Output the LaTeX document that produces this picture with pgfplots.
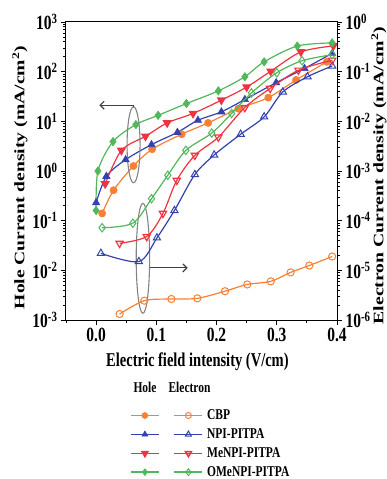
\documentclass[border=0pt]{standalone}
\usepackage{pgfplots}
\pgfplotsset{compat=1.18}
\usepackage{fontspec}
\setmainfont{Liberation Serif}
\usetikzlibrary{arrows.meta}

\definecolor{cOr}{RGB}{247,128,52}
\definecolor{cBl}{RGB}{52,66,176}
\definecolor{cRd}{RGB}{238,52,64}
\definecolor{cGr}{RGB}{82,182,92}
\definecolor{cAn}{RGB}{100,100,100}

\newcommand{\vs}[1]{\scalebox{1}[1.3]{#1}}
\newcommand{\tl}[1]{\vs{10\textsuperscript{#1}}}

\pgfplotsset{
 hole/.style={color=#1, line width=1.2pt, mark size=3.6pt, smooth, tension=0.5,
   mark options={solid, fill=#1, line width=0.6pt}},
 elec/.style={color=#1, line width=1.2pt, mark size=3.6pt, smooth, tension=0.5,
   mark options={solid, fill=white, line width=1pt}},
}

\begin{document}
\begin{tikzpicture}
% ---------------- hole (left axis) ----------------
\begin{axis}[scale only axis, width=271pt, height=298pt, xmin=-0.05, xmax=0.4,
 ymode=log, at={(0pt,0pt)}, anchor=south west,
 tick align=outside, major tick length=5pt, minor tick length=3pt,
 axis line style={line width=1pt}, tick style={line width=0.8pt, black},
 ticklabel style={font=\fontsize{15.5}{17}\selectfont\bfseries},
 ymin=1e-3, ymax=1e3,
 ytick={1e-3,1e-2,1e-1,1,1e1,1e2,1e3},
 yticklabels={\tl{-3},\tl{-2},\tl{-1},\tl{0},\tl{1},\tl{2},\tl{3}},
 minor ytick={2e-3,3e-3,4e-3,5e-3,6e-3,7e-3,8e-3,9e-3,2e-2,3e-2,4e-2,5e-2,6e-2,7e-2,8e-2,9e-2,0.2,0.3,0.4,0.5,0.6,0.7,0.8,0.9,2,3,4,5,6,7,8,9,20,30,40,50,60,70,80,90,200,300,400,500,600,700,800,900},
 xtick={0,0.1,0.2,0.3,0.4}, xticklabels={\vs{0.0},\vs{0.1},\vs{0.2},\vs{0.3},\vs{0.4}},
 minor xtick={-0.05,0.05,0.15,0.25,0.35},
 xtick pos=bottom, ytick pos=left,
 xlabel={\scalebox{1}[1.35]{Electric field intensity (V/cm)}},
 ylabel={\scalebox{1.35}[1]{Hole Current density (mA/cm\textsuperscript{2})}},
 label style={font=\fontsize{14.5}{16}\selectfont\bfseries},
 xlabel style={at={(axis description cs:0.485,-0.141)}, anchor=center},
 ylabel style={at={(axis description cs:-0.170,0.478)}, anchor=center},
]
\addplot[hole=cOr, mark=*] coordinates {(0.010,0.14) (0.029,0.41) (0.062,1.26) (0.093,2.74) (0.142,5.5) (0.186,9.3) (0.236,18) (0.286,30) (0.332,68) (0.383,158)};
\addplot[hole=cBl, mark=triangle*, mark size=4.2pt] coordinates {(0.0,0.23) (0.017,0.78) (0.049,1.69) (0.092,3.4) (0.135,6.0) (0.169,10.5) (0.208,15.5) (0.247,27.5) (0.299,60) (0.346,116) (0.392,234)};
\addplot[hole=cRd, mark=triangle*, mark size=4.2pt, mark options={rotate=180}] coordinates {(0.015,0.55) (0.042,2.6) (0.082,5.0) (0.118,9.3) (0.161,14.4) (0.208,26.7) (0.25,49) (0.29,102) (0.34,250) (0.394,330)};
\addplot[hole=cGr, mark=diamond*, mark size=4.2pt] coordinates {(0.0,0.16) (0.003,1.0) (0.028,3.9) (0.066,8.6) (0.103,13.2) (0.15,22.8) (0.203,41) (0.247,79) (0.279,158) (0.334,328) (0.392,380)};
% annotations
\draw[cAn!80, line width=1.1pt] (axis cs:0.0622,3.37) ellipse [x radius=6.5pt, y radius=38pt];
\draw[black!75, line width=1.1pt, -{Straight Barb[length=4pt,width=8pt]}] (axis cs:0.0622,19) |- (axis cs:0.0055,21.1);
\draw[cAn!80, line width=1.1pt] (axis cs:0.0777,0.0175) ellipse [x radius=6.7pt, y radius=55pt];
\draw[black!75, line width=1.1pt, -{Straight Barb[length=4pt,width=8pt]}] (axis cs:0.0888,0.0112) -- (axis cs:0.152,0.0112);
\end{axis}
% ---------------- electron (right axis) ----------------
\begin{axis}[scale only axis, width=271pt, height=298pt, xmin=-0.05, xmax=0.4,
 ymode=log, at={(0pt,0pt)}, anchor=south west,
 tick align=outside, major tick length=5pt, minor tick length=3pt,
 axis line style={line width=1pt}, tick style={line width=0.8pt, black},
 ticklabel style={font=\fontsize{15.5}{17}\selectfont\bfseries},
 ymin=1e-6, ymax=1,
 axis y line*=right, axis x line=none,
 ytick={1e-6,1e-5,1e-4,1e-3,1e-2,1e-1,1},
 yticklabels={\tl{-6},\tl{-5},\tl{-4},\tl{-3},\tl{-2},\tl{-1},\tl{0}},
 minor ytick={2e-6,3e-6,4e-6,5e-6,6e-6,7e-6,8e-6,9e-6,2e-5,3e-5,4e-5,5e-5,6e-5,7e-5,8e-5,9e-5,2e-4,3e-4,4e-4,5e-4,6e-4,7e-4,8e-4,9e-4,2e-3,3e-3,4e-3,5e-3,6e-3,7e-3,8e-3,9e-3,2e-2,3e-2,4e-2,5e-2,6e-2,7e-2,8e-2,9e-2,0.2,0.3,0.4,0.5,0.6,0.7,0.8,0.9},
 ylabel={\scalebox{1.36}[1]{Electron Current density (mA/cm\textsuperscript{2})}},
 label style={font=\fontsize{14.5}{16}\selectfont\bfseries},
 ylabel style={at={(axis description cs:1.155,0.485)}, anchor=center},
]
\addplot[elec=cOr, mark=o] coordinates {(0.039,1.32e-6) (0.08,2.45e-6) (0.125,2.65e-6) (0.168,2.73e-6) (0.214,3.8e-6) (0.251,5.2e-6) (0.29,6.0e-6) (0.323,9.1e-6) (0.354,1.25e-5) (0.392,1.9e-5)};
\addplot[elec=cBl, mark=triangle, mark size=4.2pt] coordinates {(0.008,2.2e-5) (0.071,1.5e-5) (0.101,4.5e-5) (0.13,1.6e-4) (0.164,8.5e-4) (0.196,2.1e-3) (0.24,5.5e-3) (0.279,0.0123) (0.31,0.039) (0.351,0.079) (0.392,0.13)};
\addplot[elec=cRd, mark=triangle, mark size=4.2pt, mark options={rotate=180}] coordinates {(0.039,3.5e-5) (0.084,4.8e-5) (0.111,1.4e-4) (0.134,6.5e-4) (0.164,2.07e-3) (0.203,4.8e-3) (0.247,0.019) (0.289,0.046) (0.336,0.107) (0.392,0.17)};
\addplot[elec=cGr, mark=diamond, mark size=4.2pt] coordinates {(0.01,7.2e-5) (0.061,8.9e-5) (0.092,2.77e-4) (0.119,8.2e-4) (0.149,2.6e-3) (0.192,5.8e-3) (0.225,0.0144) (0.258,0.0374) (0.3,0.095) (0.342,0.166) (0.392,0.22)};
\end{axis}
% ---------------- legend ----------------
\begin{axis}[scale only axis, width=271pt, height=298pt, at={(0pt,0pt)}, anchor=south west,
 hide axis, xmin=0, xmax=1, ymin=0, ymax=1,
 legend columns=2,
 legend image code/.code={\draw[mark repeat=2,mark phase=2,#1,line width=1.5pt] plot coordinates {(0pt,0pt) (14pt,0pt) (28pt,0pt)};},
 legend style={draw=none, fill=none, at={(axis description cs:0.236,-0.294)}, anchor=north west,
   inner xsep=0pt, inner ysep=0pt, row sep=3.5pt,
   font=\fontsize{11.5}{13}\selectfont\bfseries,
   /tikz/every even column/.append style={column sep=8pt},
   /tikz/every odd column/.append style={column sep=2pt}},
 legend cell align=left,
]
\addlegendimage{hole=cOr, mark=*, mark size=3pt}\addlegendentry{}
\addlegendimage{elec=cOr, mark=o, mark size=3pt}\addlegendentry{\vs{CBP}}
\addlegendimage{hole=cBl, mark=triangle*, mark size=3.4pt}\addlegendentry{}
\addlegendimage{elec=cBl, mark=triangle, mark size=3.4pt}\addlegendentry{\vs{NPI-PITPA}}
\addlegendimage{hole=cRd, mark=triangle*, mark size=3.4pt, mark options={rotate=180}}\addlegendentry{}
\addlegendimage{elec=cRd, mark=triangle, mark size=3.4pt, mark options={rotate=180}}\addlegendentry{\vs{MeNPI-PITPA}}
\addlegendimage{hole=cGr, mark=diamond*, mark size=3.4pt}\addlegendentry{}
\addlegendimage{elec=cGr, mark=diamond, mark size=3.4pt}\addlegendentry{\vs{OMeNPI-PITPA}}
\end{axis}
\node[font=\fontsize{11.5}{13}\selectfont\bfseries] at (79pt,-67pt) {\vs{Hole}};
\node[font=\fontsize{11.5}{13}\selectfont\bfseries] at (123.5pt,-67pt) {\vs{Electron}};
\pgfresetboundingbox
\path[use as bounding box] (-66pt,-159pt) rectangle (321pt,320pt);
\end{tikzpicture}
\end{document}
